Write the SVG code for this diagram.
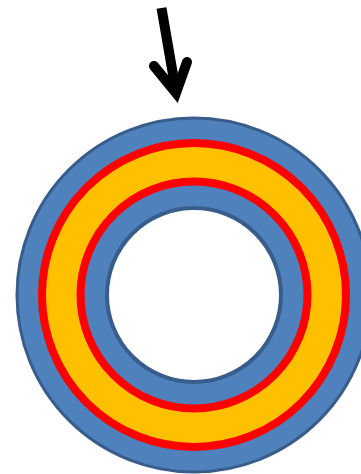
<svg xmlns="http://www.w3.org/2000/svg" width="361" height="474" viewBox="0 0 361 474">
<style>
.blue{fill:#4F81BD;stroke:#385D8A}
.red{stroke:#FF0000;stroke-width:8}
.arrow{fill:none;stroke:#000;stroke-width:10}
</style>
<rect width="361" height="474" fill="#fff"/>
<g id="ring">
<circle class="blue" cx="194" cy="295" r="177" stroke-width="3"/>
<circle class="red" cx="194" cy="295" r="152" fill="#FFC000"/>
<circle class="red" cx="194" cy="295" r="113.5" fill="#4F81BD"/>
<circle cx="194" cy="295" r="87" fill="#fff" stroke="#385D8A" stroke-width="4"/>
</g>
<g id="arrow">
<line class="arrow" x1="161.5" y1="8" x2="176" y2="92"/>
<polyline class="arrow" points="154,66 176,93 187,62" stroke-linecap="round" stroke-linejoin="miter" stroke-miterlimit="10"/>
</g>
</svg>
